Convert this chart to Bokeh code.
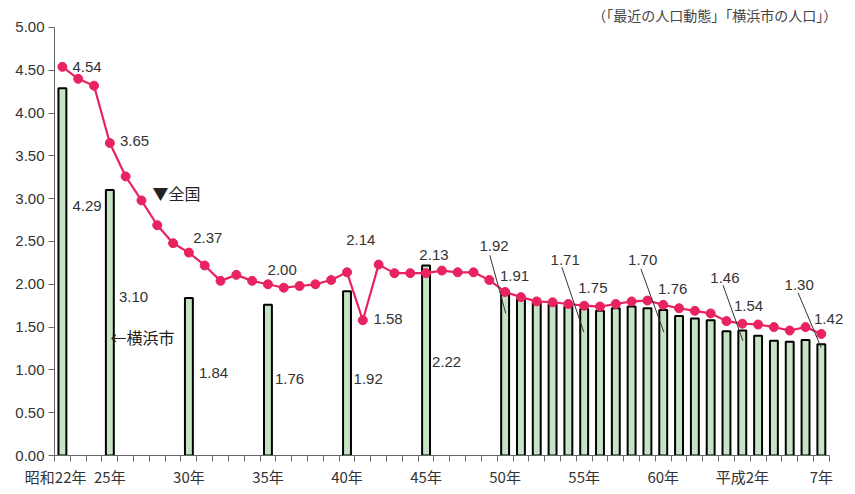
from bokeh.plotting import figure
from bokeh.models import Range1d, FixedTicker, PrintfTickFormatter
from bokeh.core.properties import value
from bokeh.embed import file_html
from bokeh.resources import INLINE

# ---- data ----
years = list(range(1947, 1996))
national = [4.54, 4.40, 4.32, 3.65, 3.26, 2.98, 2.69, 2.48, 2.37, 2.22,
            2.04, 2.11, 2.04, 2.00, 1.96, 1.98, 2.00, 2.05, 2.14, 1.58,
            2.23, 2.13, 2.13, 2.13, 2.16, 2.14, 2.14, 2.05, 1.91, 1.85,
            1.80, 1.79, 1.77, 1.75, 1.74, 1.77, 1.80, 1.81, 1.76, 1.72,
            1.69, 1.66, 1.57, 1.54, 1.53, 1.50, 1.46, 1.50, 1.42]
yoko_years = [1947, 1950, 1955, 1960, 1965, 1970] + list(range(1975, 1996))
yokohama = [4.29, 3.10, 1.84, 1.76, 1.92, 2.22,
            1.92, 1.83, 1.80, 1.77, 1.74, 1.71, 1.69, 1.72, 1.74, 1.72,
            1.70, 1.63, 1.60, 1.58, 1.45, 1.46, 1.40, 1.34, 1.33, 1.35, 1.30]
tick_years = [1947, 1950, 1955, 1960, 1965, 1970, 1975, 1980, 1985, 1990, 1995]
tick_labels = ["昭和22年", "25年", "30年", "35年", "40年", "45年", "50年", "55年", "60年", "平成2年", "7年"]

# labelled national values and their label anchors (annotation placement)
nat_label_years = [1947, 1950, 1955, 1960, 1965, 1966, 1970, 1975, 1980, 1985, 1990, 1995]
nat_label_x = [1948.56, 1951.56, 1956.2, 1960.9, 1965.87, 1967.6, 1970.5, 1975.6, 1980.55, 1985.6, 1990.4, 1995.46]
nat_label_y = [4.54, 3.67, 2.54, 2.17, 2.52, 1.60, 2.34, 2.10, 1.96, 1.94, 1.75, 1.60]

# labelled Yokohama values and their label anchors
yk_label_years = [1947, 1950, 1955, 1960, 1965, 1970, 1975, 1980, 1985, 1990, 1995]
yk_label_x = [1948.56, 1951.5, 1956.56, 1961.37, 1966.34, 1971.3, 1974.3, 1978.8, 1983.7, 1988.9, 1993.6]
yk_label_y = [2.92, 1.85, 0.96, 0.89, 0.89, 1.09, 2.45, 2.28, 2.28, 2.07, 1.99]
# leader lines for dense-region labels
lead_x0 = [1974.03, 1978.59, 1983.59, 1988.78, 1993.53]
lead_y0 = [2.34, 2.20, 2.18, 1.99, 1.90]
lead_x1 = [1975.04, 1979.98, 1985.04, 1990.04, 1994.99]
lead_y1 = [1.66, 1.44, 1.44, 1.34, 1.26]

LINE_COL = "#e8235f"
BAR_FILL = "#c6e4c4"
TXT = "#333333"
NUM_FONT = value("Liberation Sans")
JP_FONT = value("Noto Sans CJK JP")

p = figure(width=855, height=494, output_backend="svg", toolbar_location=None,
           x_range=Range1d(1946.5, 1997.16), y_range=Range1d(0, 5.315),
           min_border_left=54, min_border_right=0, min_border_top=0, min_border_bottom=39)
p.outline_line_color = None
p.xgrid.visible = False
p.ygrid.visible = False
p.background_fill_color = "white"
p.border_fill_color = "white"

# y axis
p.yaxis.bounds = (0, 5)
p.yaxis.ticker = FixedTicker(ticks=[i * 0.5 for i in range(11)], minor_ticks=[])
p.yaxis.formatter = PrintfTickFormatter(format="%.2f")
p.yaxis.major_tick_out = 6
p.yaxis.major_tick_in = 0
p.yaxis.major_label_text_font_size = "15px"
p.yaxis.major_label_text_font = "Liberation Sans"
p.yaxis.major_label_text_color = TXT
p.yaxis.axis_line_color = "#666666"
p.yaxis.major_tick_line_color = "#666666"
p.yaxis.major_label_standoff = 4

# x axis
p.xaxis.bounds = (1946.5, 1995.5)
p.xaxis.ticker = FixedTicker(ticks=tick_years, minor_ticks=[1946.5 + i for i in range(50)])
overrides = {y: l for y, l in zip(tick_years, tick_labels)}
overrides[1947] = tick_labels[0] + "\u00a0\u00a0\u00a0\u00a0"
p.xaxis.major_label_overrides = overrides
p.xaxis.major_tick_line_color = None
p.xaxis.minor_tick_out = 6
p.xaxis.minor_tick_in = 0
p.xaxis.minor_tick_line_color = "#666666"
p.xaxis.axis_line_color = "#666666"
p.xaxis.major_label_text_font_size = "15px"
p.xaxis.major_label_text_font = "Noto Sans CJK JP"
p.xaxis.major_label_text_color = TXT
p.xaxis.major_label_standoff = 4

# bars (Yokohama)
p.vbar(x=yoko_years, top=yokohama, bottom=0, width=0.5,
       fill_color=BAR_FILL, line_color="black", line_width=2)

# line (national)
p.line(years, national, line_color=LINE_COL, line_width=2.2)
p.scatter(years, national, size=9, fill_color=LINE_COL, line_color=LINE_COL)

# national labels
nat_vals = [national[years.index(y)] for y in nat_label_years]
p.text(x=nat_label_x, y=nat_label_y, text=[f"{v:.2f}" for v in nat_vals],
       text_align="center", text_baseline="middle", text_font_size="15px",
       text_font=NUM_FONT, text_color=TXT)

# yokohama labels
yk_vals = [yokohama[yoko_years.index(y)] for y in yk_label_years]
p.text(x=yk_label_x, y=yk_label_y, text=[f"{v:.2f}" for v in yk_vals],
       text_align="center", text_baseline="middle", text_font_size="15px",
       text_font=NUM_FONT, text_color=TXT)

p.segment(x0=lead_x0, y0=lead_y0, x1=lead_x1, y1=lead_y1, line_color="#333333", line_width=1)

# series legends in-chart
p.text(x=[1952.7], y=[3.07], text=["▼全国"], text_align="left", text_baseline="middle",
       text_font_size="16px", text_font=JP_FONT, text_color="#222222")
p.text(x=[1950.04], y=[1.39], text=["←横浜市"], text_align="left", text_baseline="middle",
       text_font_size="16px", text_font=JP_FONT, text_color="#222222")

# source note
p.text(x=[1996.0], y=[5.15], text=["（「最近の人口動態」「横浜市の人口」）"], text_align="right",
       text_baseline="middle", text_font_size="14px", text_font=JP_FONT, text_color="#444444")

open("out.html", "w").write(file_html(p, INLINE))
